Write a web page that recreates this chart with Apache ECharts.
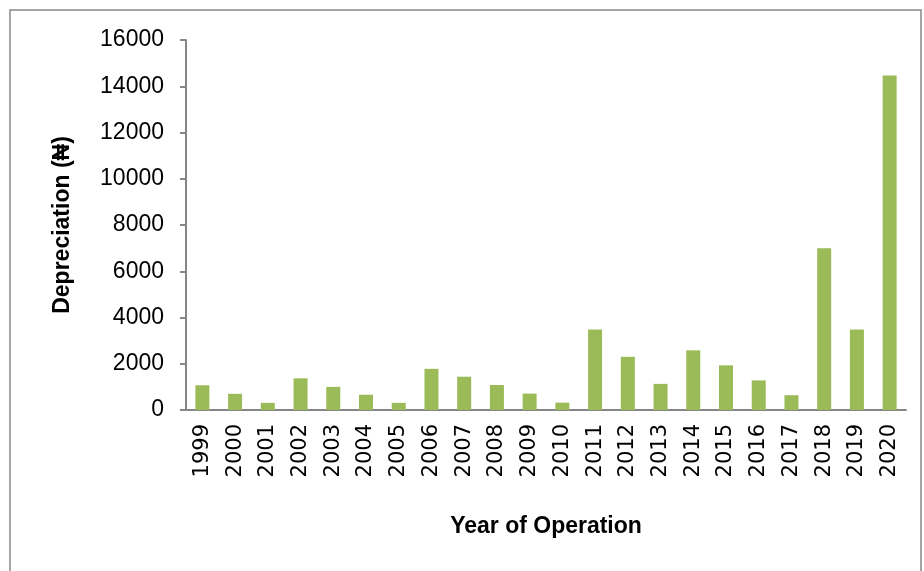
<!DOCTYPE html>
<html>
<head>
<meta charset="utf-8">
<script src="https://cdn.jsdelivr.net/npm/echarts@6/dist/echarts.min.js"></script>
<style>
  html, body { margin: 0; padding: 0; background: #fff; }
  #chart { width: 924px; height: 571px; }
</style>
</head>
<body>
<div id="chart"></div>
<script>
// years on the x axis
const years = ['1999', '2000', '2001', '2002', '2003', '2004', '2005', '2006', '2007', '2008', '2009',
  '2010', '2011', '2012', '2013', '2014', '2015', '2016', '2017', '2018', '2019', '2020']
// depreciation per year
const depreciation = [1070, 700, 310, 1370, 1000, 660, 310, 1780, 1440, 1080, 710,
  320, 3480, 2300, 1130, 2580, 1930, 1280, 640, 6990, 3480, 14460]

const axisGrey = '#868686'

const chart = echarts.init(document.getElementById('chart'))
chart.setOption({
  backgroundColor: '#fff',
  animation: false,
  graphic: [{
    type: 'rect',
    shape: { x: 10, y: 10, width: 911, height: 580 },
    style: { fill: 'none', stroke: '#888', lineWidth: 1.5 },
    silent: true
  }],
  grid: { left: 186, top: 40, right: 18, bottom: 161 },
  xAxis: {
    type: 'category',
    data: years,
    name: 'Year of Operation',
    nameLocation: 'middle',
    nameGap: 105,
    nameTextStyle: { fontFamily: 'Liberation Sans', fontWeight: 'bold', fontSize: 23, color: '#000' },
    axisLine: { lineStyle: { color: axisGrey, width: 2 } },
    axisTick: { alignWithLabel: false, length: 6, lineStyle: { color: axisGrey, width: 2 } },
    axisLabel: { rotate: 90, interval: 0, margin: 14, fontFamily: 'DejaVu Sans', fontSize: 21, color: '#000' }
  },
  yAxis: {
    type: 'value',
    min: 0,
    max: 16000,
    interval: 2000,
    name: 'Depreciation (₦)',
    nameLocation: 'middle',
    nameGap: 112,
    nameTextStyle: { fontFamily: 'Liberation Sans', fontWeight: 'bold', fontSize: 23, color: '#000' },
    axisLine: { show: true, lineStyle: { color: axisGrey, width: 2 } },
    axisTick: { show: true, length: 6, lineStyle: { color: axisGrey, width: 2 } },
    axisLabel: { margin: 22, fontFamily: 'Liberation Sans', fontSize: 23, color: '#000', formatter: v => String(v) },
    splitLine: { show: false }
  },
  series: [{
    type: 'bar',
    data: depreciation,
    barWidth: 14,
    itemStyle: { color: '#9BBB59' }
  }]
})
</script>
</body>
</html>
